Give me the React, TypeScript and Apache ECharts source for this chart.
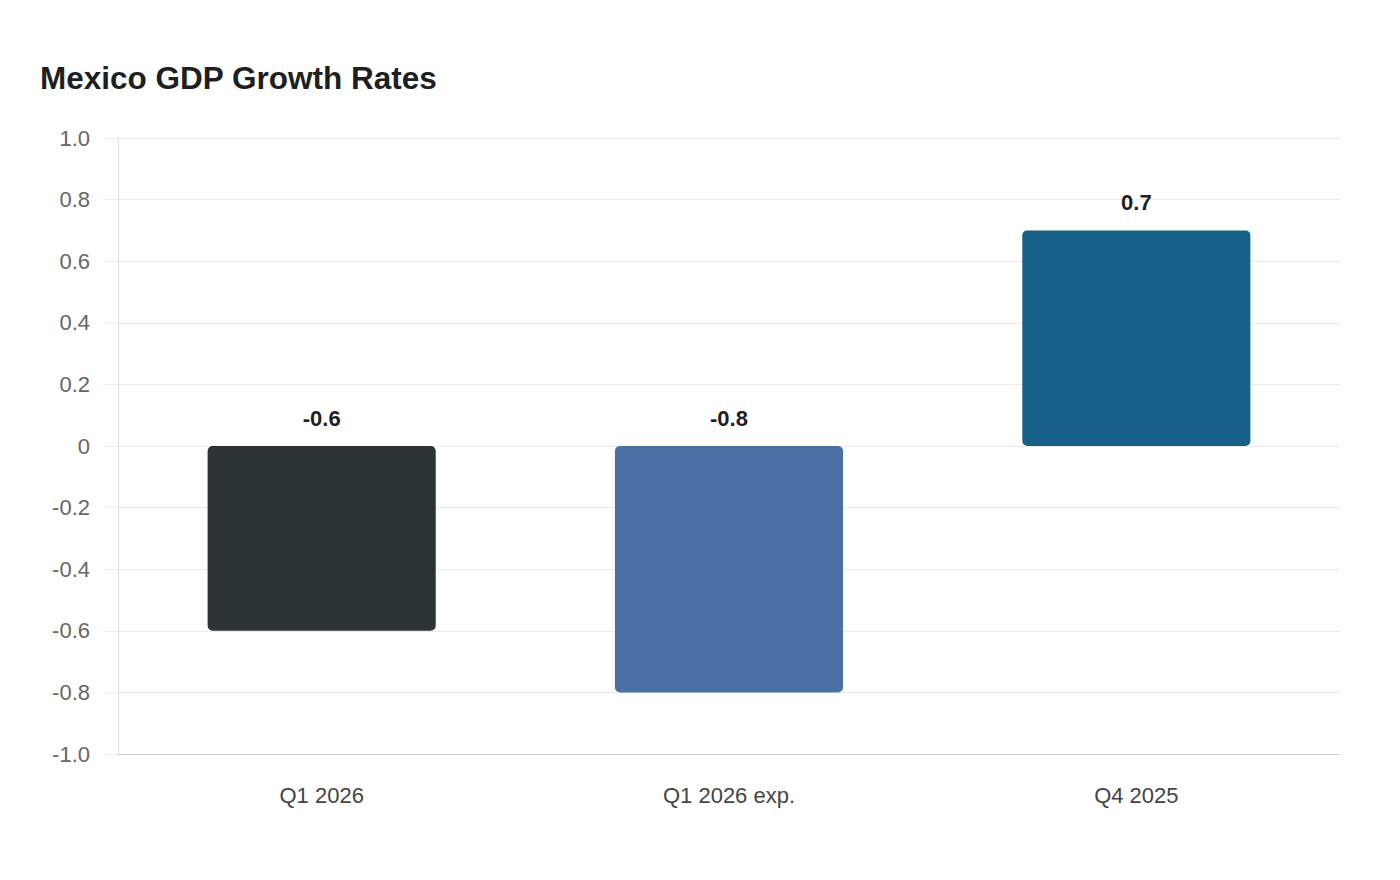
import React, { useEffect, useRef } from "react";
import * as echarts from "echarts";

const categories = ["Q1 2026", "Q1 2026 exp.", "Q4 2025"];
const values = [-0.6, -0.8, 0.7];
const barColors = ["#2d3436", "#4a6fa5", "#17608a"];
const title = "Mexico GDP Growth Rates";

const FONT = "Liberation Sans, Arial, sans-serif";

export default function App() {
  const ref = useRef<HTMLDivElement>(null);
  useEffect(() => {
    if (!ref.current) return;
    const chart = echarts.init(ref.current, undefined, { renderer: "svg" });
    chart.setOption({
      animation: false,
      backgroundColor: "#ffffff",
      title: {
        text: title,
        left: 40,
        top: 62,
        padding: 0,
        textStyle: { fontFamily: FONT, fontSize: 31.5, fontWeight: "bold", color: "#1f1f1f" },
      },
      grid: { left: 118, right: 60, top: 138, bottom: 126, containLabel: false },
      xAxis: {
        type: "category",
        data: categories,
        axisLine: { show: true, onZero: false, lineStyle: { color: "#d0d0d0", width: 1 } },
        axisTick: { show: false },
        axisLabel: { margin: 30, fontSize: 22, color: "#444444", fontFamily: FONT },
        splitLine: { show: false },
      },
      yAxis: {
        type: "value",
        min: -1,
        max: 1,
        interval: 0.2,
        axisLine: { show: true, lineStyle: { color: "#dddddd", width: 1 } },
        axisTick: { show: true, length: 15, lineStyle: { color: "#eeeeee" } },
        axisLabel: {
          margin: 28,
          fontSize: 22,
          color: "#666666",
          fontFamily: FONT,
          formatter: (v: number) => (Math.abs(v) < 1e-9 ? "0" : v.toFixed(1)),
        },
        splitLine: { show: true, lineStyle: { color: "#eaeaea", width: 1 } },
      },
      series: [
        {
          type: "bar",
          barWidth: "56%",
          data: values.map((v, i) => ({
            value: v,
            itemStyle: { color: barColors[i], borderRadius: 5 },
          })),
          label: {
            show: true,
            position: "top",
            distance: 17,
            fontSize: 22,
            fontWeight: "bold",
            color: "#1f1f1f",
            fontFamily: FONT,
            formatter: (p: any) => String(p.value),
          },
        },
      ],
    });
    return () => chart.dispose();
  }, []);
  return (
    <div
      ref={ref}
      style={{ position: "absolute", left: 0, top: 0, width: 1400, height: 880 }}
    />
  );
}
